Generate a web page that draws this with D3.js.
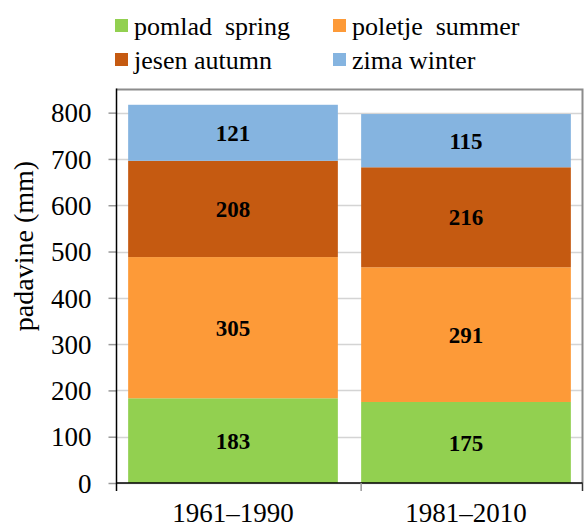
<!DOCTYPE html>
<html>
<head>
<meta charset="utf-8">
<script src="https://cdn.jsdelivr.net/npm/d3@7"></script>
<style>
  body { margin: 0; background: #fff; }
</style>
</head>
<body>
<div id="chart"></div>
<script>
// data
var periods = ['1961–1990', '1981–2010']
var seasons = ['spring', 'summer', 'autumn', 'winter']
var seasonLabels = ['pomlad  spring', 'poletje  summer', 'jesen autumn', 'zima winter']
var spring = [183, 175]
var summer = [305, 291]
var autumn = [208, 216]
var winter = [121, 115]
var yTicks = [0, 100, 200, 300, 400, 500, 600, 700, 800]

var colors = {spring: '#92d050', summer: '#fd9a38', autumn: '#c55a11', winter: '#85b4e0'}
var serif = '"Liberation Serif", "DejaVu Serif", "Times New Roman", serif'

var width = 585, height = 527
var plotLeft = 116.5, plotRight = 582.5, plotTop = 89.5, plotBottom = 483

var svg = d3.select('#chart').append('svg')
    .attr('width', width)
    .attr('height', height)
    .style('font-family', serif)

var rows = periods.map(function(p, i) {
    return {period: p, spring: spring[i], summer: summer[i], autumn: autumn[i], winter: winter[i]}
})
var stacked = d3.stack().keys(seasons)(rows)

var x = d3.scaleBand()
    .domain(periods)
    .range([plotLeft, plotRight])
    .paddingInner(0.1)
    .paddingOuter(0.05)

var y = d3.scaleLinear()
    .domain([0, 850])
    .range([plotBottom, plotTop])

// gridlines
svg.append('g')
    .selectAll('line')
    .data(yTicks)
    .enter().append('line')
    .attr('x1', plotLeft)
    .attr('x2', plotRight)
    .attr('y1', function(d) { return Math.round(y(d)) + 0.5 })
    .attr('y2', function(d) { return Math.round(y(d)) + 0.5 })
    .attr('stroke', '#d4d4d4')
    .attr('stroke-width', 1.5)

// bars
var layer = svg.selectAll('.layer')
    .data(stacked)
    .enter().append('g')
    .attr('class', 'layer')
    .attr('fill', function(d) { return colors[d.key] })

layer.selectAll('rect')
    .data(function(d) { return d })
    .enter().append('rect')
    .attr('x', function(d) { return x(d.data.period) })
    .attr('width', x.bandwidth())
    .attr('y', function(d) { return y(d[1]) })
    .attr('height', function(d) { return y(d[0]) - y(d[1]) })

// value labels
layer.selectAll('.val')
    .data(function(d) { return d })
    .enter().append('text')
    .attr('class', 'val')
    .attr('x', function(d) { return x(d.data.period) + x.bandwidth() / 2 })
    .attr('y', function(d) { return (y(d[0]) + y(d[1])) / 2 })
    .attr('dy', '0.35em')
    .attr('text-anchor', 'middle')
    .attr('fill', '#000')
    .style('font-family', serif)
    .style('font-size', '23px')
    .style('font-weight', 'bold')
    .text(function(d) { return d[1] - d[0] })

// frame top and right
svg.append('path')
    .attr('d', 'M' + plotLeft + ',' + plotTop + 'H' + plotRight + 'V' + plotBottom)
    .attr('fill', 'none')
    .attr('stroke', '#8c8c8c')
    .attr('stroke-width', 2)

// y axis
var yAxis = svg.append('g')
    .attr('transform', 'translate(' + plotLeft + ',0)')
    .call(d3.axisLeft(y).tickValues(yTicks).tickSize(8).tickPadding(17))
yAxis.select('.domain').remove()
yAxis.selectAll('.tick line').attr('stroke', '#999').attr('stroke-width', 1.5)
yAxis.selectAll('.tick text')
    .style('font-family', serif)
    .style('font-size', '27px')
    .attr('fill', '#000')
    .attr('dy', '0.34em')

svg.append('line')
    .attr('x1', plotLeft).attr('x2', plotLeft)
    .attr('y1', plotTop - 1).attr('y2', plotBottom + 8)
    .attr('stroke', '#000')
    .attr('stroke-width', 1.5)

// x axis
var xAxis = svg.append('g')
    .attr('transform', 'translate(0,' + plotBottom + ')')
    .call(d3.axisBottom(x).tickSize(0).tickPadding(20))
xAxis.select('.domain')
    .attr('d', 'M' + plotLeft + ',0H' + plotRight)
    .attr('stroke', '#000')
    .attr('stroke-width', 1.5)
xAxis.selectAll('.tick text')
    .style('font-family', serif)
    .style('font-size', '27px')
    .attr('fill', '#000')

// category separators on the x axis
svg.append('g')
    .selectAll('line')
    .data([plotLeft + x.step() + x.step() * 0.05, plotRight])
    .enter().append('line')
    .attr('x1', function(d) { return d })
    .attr('x2', function(d) { return d })
    .attr('y1', plotBottom)
    .attr('y2', plotBottom + 8)
    .attr('stroke', function(d, i) { return i == 0 ? '#999' : '#333' })
    .attr('stroke-width', 1.5)

// y axis title
svg.append('text')
    .attr('transform', 'translate(33,246) rotate(-90)')
    .attr('text-anchor', 'middle')
    .style('font-family', serif)
    .style('font-size', '28px')
    .text('padavine (mm)')

// legend
var legendPos = [[115, 19], [333, 19], [115, 53], [333, 53]]
var legend = svg.selectAll('.legend')
    .data(seasons)
    .enter().append('g')
    .attr('class', 'legend')
    .attr('transform', function(d, i) { return 'translate(' + legendPos[i][0] + ',' + legendPos[i][1] + ')' })

legend.append('rect')
    .attr('width', 13)
    .attr('height', 13)
    .attr('fill', function(d) { return colors[d] })

legend.append('text')
    .attr('x', 19)
    .attr('y', 16)
    .style('font-family', serif)
    .style('font-size', '26px')
    .style('white-space', 'pre')
    .text(function(d, i) { return seasonLabels[i] })
</script>
</body>
</html>
